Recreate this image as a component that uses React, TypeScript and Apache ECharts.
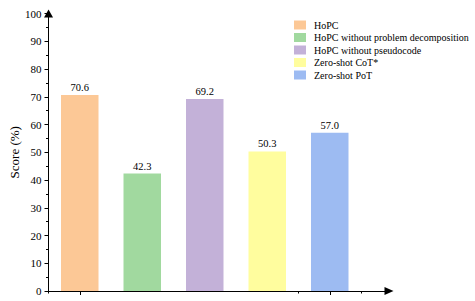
import React, { useEffect, useRef } from "react";
import * as echarts from "echarts";

const categories = [
  "HoPC",
  "HoPC without problem decomposition",
  "HoPC without pseudocode",
  "Zero-shot CoT*",
  "Zero-shot PoT",
];
const scores = [70.6, 42.3, 69.2, 50.3, 57.0];
const colors = ["#FCC896", "#A1D99F", "#C3B1D8", "#FFFD9E", "#9DBBF2"];
const yTicks = { min: 0, max: 100, interval: 10 };

const FONT = "Liberation Serif";

export default function App() {
  const ref = useRef<HTMLDivElement>(null);
  useEffect(() => {
    if (!ref.current) return;
    const chart = echarts.init(ref.current, null, { renderer: "svg" });
    const left = 48.5;
    const top = 13.5;
    const bottom = 10;
    const series = categories.map((name, i) => ({
      name,
      type: "bar",
      stack: "all",
      barWidth: "60%",
      xAxisIndex: 0,
      yAxisIndex: 0,
      itemStyle: { color: colors[i] },
      label: {
        show: true,
        position: "top",
        distance: 2,
        color: "#000",
        fontSize: 10.5,
        fontFamily: FONT,
        formatter: (p: any) => Number(p.value).toFixed(1),
      },
      data: categories.map((_, j) => (j === i ? scores[i] : "-")),
    }));
    chart.setOption({
      animation: false,
      backgroundColor: "#fff",
      textStyle: { fontFamily: FONT },
      legend: {
        orient: "vertical",
        left: 289,
        top: 15,
        icon: "rect",
        itemWidth: 12,
        itemHeight: 9,
        itemGap: 2.5,
        textStyle: {
          fontFamily: FONT,
          fontSize: 10,
          color: "#000",
          lineHeight: 10,
          padding: [0, 0, 0, 3],
        },
        data: categories,
      },
      grid: [
        { left, width: 312.5, top, bottom, containLabel: false, outerBoundsMode: "none" },
        { left, right: 86, top, bottom, containLabel: false, outerBoundsMode: "none" },
      ],
      xAxis: [
        {
          type: "category",
          gridIndex: 0,
          position: "bottom",
          data: categories,
          axisLine: { show: false },
          axisTick: { show: true, alignWithLabel: false, length: 2.5, lineStyle: { color: "#000" } },
          axisLabel: { show: false },
        },
        {
          type: "category",
          gridIndex: 0,
          position: "bottom",
          data: categories,
          axisLine: { show: false },
          axisTick: { show: true, alignWithLabel: true, length: 4, lineStyle: { color: "#000" } },
          axisLabel: { show: false },
        },
        {
          type: "value",
          gridIndex: 1,
          min: 0,
          max: 1,
          axisLine: {
            show: true,
            symbol: ["none", "triangle"],
            symbolSize: [8, 9],
            lineStyle: { color: "#000", width: 1 },
          },
          axisTick: { show: false },
          axisLabel: { show: false },
          splitLine: { show: false },
        },
      ],
      yAxis: [
        {
          type: "value",
          gridIndex: 0,
          min: yTicks.min,
          max: yTicks.max,
          interval: yTicks.interval,
          name: "Score (%)",
          nameLocation: "middle",
          nameGap: 28,
          nameMoveOverlap: false,
          nameTextStyle: { fontFamily: FONT, fontSize: 13, color: "#000" },
          axisLine: {
            show: true,
            symbol: ["none", "triangle"],
            symbolSize: [9, 8],
            lineStyle: { color: "#000", width: 1 },
          },
          axisTick: { show: true, length: 4, lineStyle: { color: "#000" } },
          minorTick: { show: true, splitNumber: 2, length: 2.5, lineStyle: { color: "#000" } },
          axisLabel: { fontFamily: FONT, fontSize: 11, color: "#000", margin: 7 },
          splitLine: { show: false },
        },
        {
          type: "value",
          gridIndex: 1,
          show: false,
          min: 0,
          max: 100,
        },
      ],
      series,
    });
    return () => chart.dispose();
  }, []);
  return (
    <div
      ref={ref}
      style={{ position: "fixed", left: 0, top: 0, width: 475, height: 301 }}
    />
  );
}
